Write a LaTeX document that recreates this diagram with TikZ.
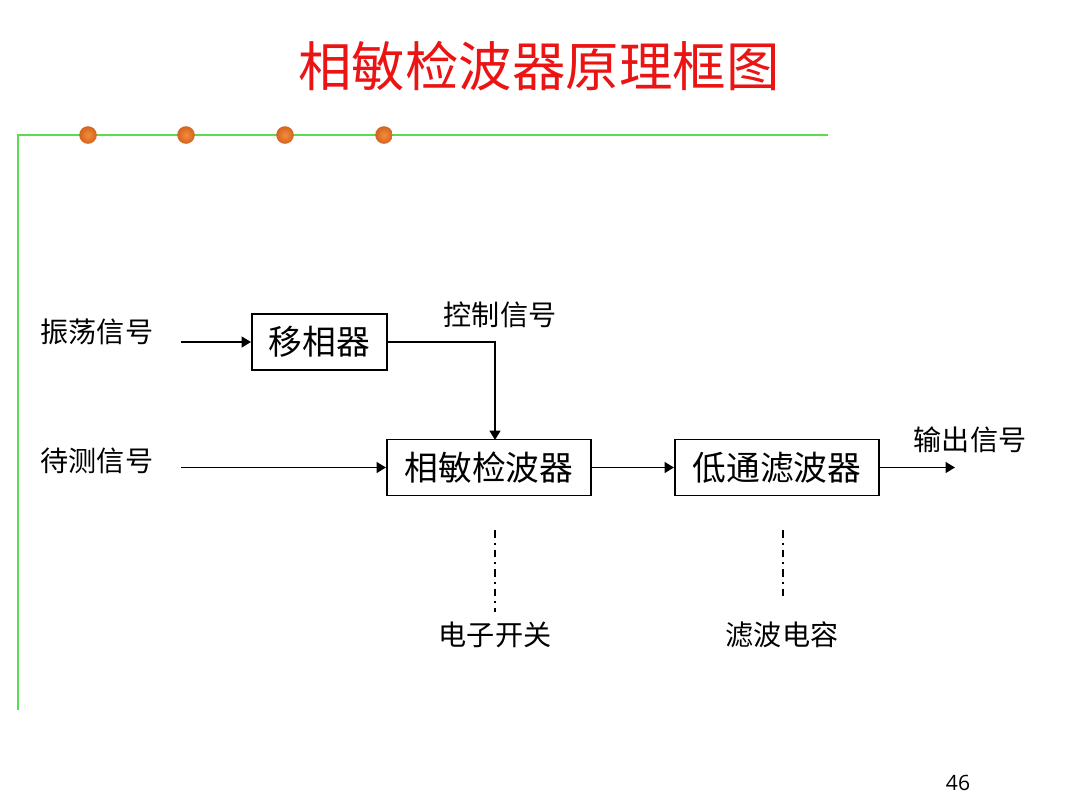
\documentclass[tikz,border=0pt]{standalone}
\usepackage{fontspec}
\usepackage{tikz}
\usetikzlibrary{positioning, shapes.geometric, arrows.meta}
\newfontfamily\cjk{Noto Sans CJK SC}
\newfontfamily\numfont{Open Sans}
\definecolor{framegreen}{RGB}{90,220,80}
\definecolor{dotlight}{RGB}{245,140,60}
\definecolor{dotdark}{RGB}{210,100,30}
\definecolor{titlered}{RGB}{235,20,20}

\begin{document}
\begin{tikzpicture}[x=0.025cm, y=-0.025cm,
    blockbox/.style={draw, line width=1.4pt, inner sep=0pt, minimum height=1.4cm, font=\cjk\fontsize{24pt}{28pt}\selectfont},
    sigtext/.style={inner sep=0pt, font=\cjk\fontsize{20pt}{24pt}\selectfont},
    sigline/.style={line width=1.2pt, -{Triangle[scale=1.1]}}
]
    \useasboundingbox (0,0) rectangle (1080,810);

    % Define frame
    \draw[framegreen, line width=1.2pt] (18,710) -- (18,135) -- (828,135);
    \foreach \x in {88, 186, 285, 384}
        \shade[inner color=dotlight, outer color=dotdark] (\x,135) circle (0.22cm);

    % Define nodes
    \node[font=\cjk\fontsize{38pt}{42pt}\selectfont, text=titlered] (Title) at (539,66) {相敏检波器原理框图};
    \node[blockbox, minimum width=3.375cm] (Shifter) at (319.5,342) {移相器};
    \node[blockbox, minimum width=5.1cm] (PSD) at (489,467.5) {相敏检波器};
    \node[blockbox, minimum width=5.1cm] (LPF) at (777,467.5) {低通滤波器};
    \node[sigtext] (OscLabel) at (97,332) {振荡信号};
    \node[sigtext] (SigLabel) at (97,461) {待测信号};
    \node[sigtext] (CtrlLabel) at (500,315) {控制信号};
    \node[sigtext] (OutLabel) at (970,440) {输出信号};
    \node[sigtext] (SwitchLabel) at (495,635) {电子开关};
    \node[sigtext] (CapLabel) at (782,635) {滤波电容};
    \node[font=\numfont\fontsize{15pt}{18pt}\selectfont, inner sep=0pt] (Page) at (958,783) {46};

    \coordinate (OscIn) at (181,342);
    \coordinate (SigIn) at (181,467.5);
    \coordinate (CtrlIn) at (495,440);
    \coordinate (Out) at (955,467.5);
    \coordinate (SwitchTop) at (495,530);
    \coordinate (SwitchEnd) at (495,612);
    \coordinate (CapTop) at (783,530);
    \coordinate (CapEnd) at (783,600);

    % Draw signal paths
    \draw[sigline] (OscIn) -- (Shifter);
    \draw[sigline] (SigIn) -- (PSD);
    \draw[sigline] (Shifter.east) -| (CtrlIn);
    \draw[sigline] (PSD) -- (LPF);
    \draw[sigline] (LPF) -- (Out);

    % Dash-dot leaders
    \draw[line width=1.2pt, dash pattern=on 5.5pt off 3.5pt on 1.4pt off 3.5pt] (SwitchTop) -- (SwitchEnd);
    \draw[line width=1.2pt, dash pattern=on 5.5pt off 3.5pt on 1.4pt off 3.5pt] (CapTop) -- (CapEnd);
\end{tikzpicture}
\end{document}
